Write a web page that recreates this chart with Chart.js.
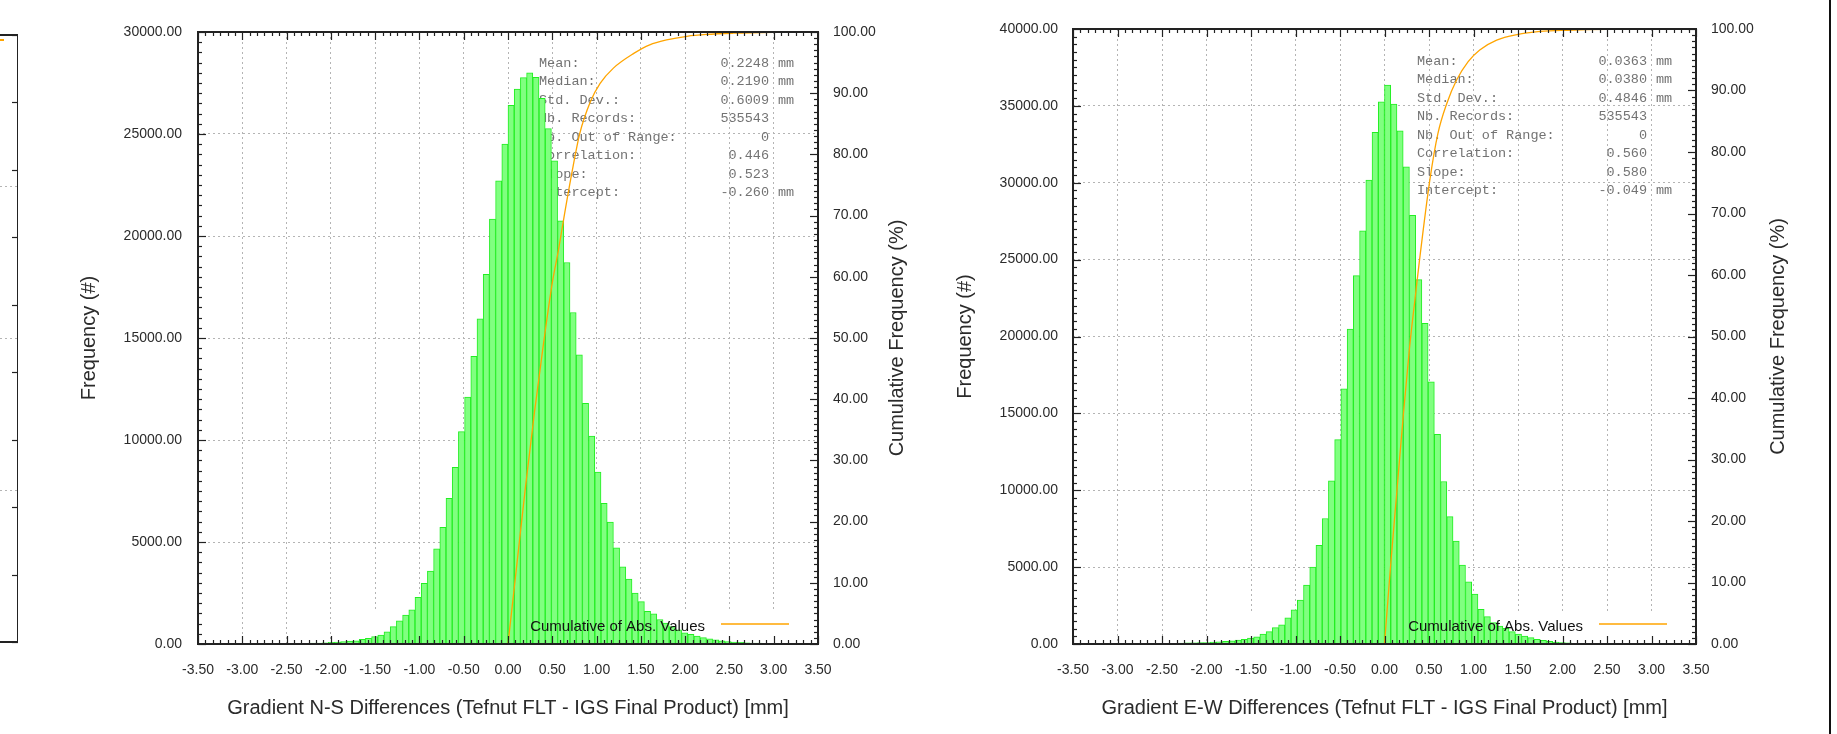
<!DOCTYPE html>
<html>
<head>
<meta charset="utf-8">
<script src="https://cdn.jsdelivr.net/npm/chart.js@4.4.0/dist/chart.umd.min.js"></script>
<style>
  html, body { margin: 0; padding: 0; background: #fff; }
  body { width: 1837px; height: 734px; position: relative; overflow: hidden; }
  .pane { position: absolute; top: 0; }
  canvas { display: block; }
  #edge { position: absolute; left: 1829px; top: 0; width: 2px; height: 734px; background: #111; }
</style>
</head>
<body>
<div class="pane" style="left:-400px"><canvas id="cutChart" width="418" height="734"></canvas></div>
<div class="pane" style="left:0"><canvas id="nsChart" width="920" height="734"></canvas></div>
<div class="pane" style="left:920px"><canvas id="ewChart" width="917" height="734"></canvas></div>
<div id="edge"></div>
<script>
// histogram bins: 100 bins of 0.07 mm from -3.5 to 3.5
const binStart = -3.5;
const binWidth = 0.07;

// Gradient N-S, counts per bin
const nsCounts = [
  0, 0, 0, 0, 0, 0, 0, 0, 0, 0,
  0, 0, 5, 8, 12, 18, 25, 32, 40, 50,
  62, 80, 100, 120, 140, 160, 230, 280, 360, 440,
  600, 850, 1130, 1420, 1670, 2290, 2970, 3580, 4660, 5720,
  7140, 8660, 10410, 12110, 14100, 15940, 18120, 20830, 22700, 24500,
  26400, 27200, 27760, 28000, 27780, 26750, 25260, 23680, 20740, 18700,
  16250, 14180, 11800, 10190, 8430, 6900, 5980, 4720, 3780, 3180,
  2500, 2080, 1600, 1480, 1200, 1030, 850, 690, 550, 470,
  390, 310, 250, 200, 150, 120, 100, 80, 60, 50,
  40, 30, 20, 20, 10, 8, 5, 3, 0, 0
];
// Gradient E-W, counts per bin
const ewCounts = [
  0, 0, 0, 0, 0, 0, 0, 0, 0, 0,
  10, 15, 20, 25, 30, 40, 50, 60, 70, 80,
  90, 100, 120, 140, 170, 210, 260, 310, 390, 470,
  650, 800, 1060, 1240, 1710, 2230, 2850, 3830, 5000, 6420,
  8160, 10620, 13290, 16600, 20490, 23960, 26880, 30180, 33280, 35270,
  36360, 35120, 33370, 31040, 27880, 23700, 20850, 17050, 13630, 10570,
  8280, 6700, 5140, 4050, 3250, 2260, 1780, 1390, 1170, 1020,
  800, 650, 520, 410, 300, 240, 170, 130, 90, 70,
  50, 40, 30, 20, 20, 10, 8, 5, 0, 0,
  0, 0, 0, 0, 0, 0, 0, 0, 0, 0
];

// cumulative of absolute values (%)
const nsCumX   = [0, 0.1, 0.2, 0.3, 0.4, 0.5, 0.57, 0.64, 0.72, 0.81, 0.93, 1.04, 1.19, 1.42, 1.6, 1.79, 2.02, 2.24, 2.54, 3.0, 3.5];
const nsCumPct = [0, 13, 26, 38, 49, 59, 64.4, 70.4, 76.9, 83.4, 88.6, 91.6, 94.1, 96.5, 97.9, 98.7, 99.3, 99.6, 99.8, 99.95, 100];
const ewCumX   = [0, 0.07, 0.14, 0.21, 0.28, 0.35, 0.39, 0.51, 0.6, 0.7, 0.81, 0.94, 1.07, 1.26, 1.49, 1.75, 2.05, 2.5, 3.5];
const ewCumPct = [0, 13, 25, 37, 48, 57, 62, 75.5, 83, 87.9, 91.7, 94.7, 96.6, 98.2, 99.1, 99.6, 99.8, 99.95, 100];

// statistics boxes
const nsStats = [
  ['Mean:', '0.2248', 'mm'], ['Median:', '0.2190', 'mm'], ['Std. Dev.:', '0.6009', 'mm'],
  ['Nb. Records:', '535543', ''], ['Nb. Out of Range:', '0', ''], ['Correlation:', '0.446', ''],
  ['Slope:', '0.523', ''], ['Intercept:', '-0.260', 'mm']
];
const ewStats = [
  ['Mean:', '0.0363', 'mm'], ['Median:', '0.0380', 'mm'], ['Std. Dev.:', '0.4846', 'mm'],
  ['Nb. Records:', '535543', ''], ['Nb. Out of Range:', '0', ''], ['Correlation:', '0.560', ''],
  ['Slope:', '0.580', ''], ['Intercept:', '-0.049', 'mm']
];

const xTitles = [
  'Gradient N-S Differences (Tefnut FLT - IGS Final Product) [mm]',
  'Gradient E-W Differences (Tefnut FLT - IGS Final Product) [mm]'
];
const yTitle = 'Frequency (#)';
const y2Title = 'Cumulative Frequency (%)';
const keyLabel = 'Cumulative of Abs. Values';

const SANS = '"Liberation Sans", Arial, Helvetica, sans-serif';
const MONO = '"Liberation Mono", "Courier New", monospace';
const TEXT = '#2b2b2b';
const GRID = '#b4b4b4';
const gridDash = [2, 3];

// gnuplot-like frame: border, inward ticks, key, stats, right-hand title
const gnuFrame = {
  id: 'gnuFrame',
  beforeDatasetsDraw(chart, args, o) {
    const { ctx, chartArea: a } = chart;
    const x = chart.scales.x;
    ctx.save();
    // the key box is opaque: it hides the grid, the bars go over it
    const kx = x.getPixelForValue(o.keyFrom);
    ctx.fillStyle = '#fff';
    ctx.fillRect(kx, a.bottom - 32, a.right - kx - 1, 31);
    // stats text sits under the bars
    ctx.font = '13.5px ' + MONO;
    ctx.fillStyle = '#737373';
    ctx.textBaseline = 'middle';
    o.stats.forEach((row, i) => {
      const y = a.top + o.statsTop + i * 18.5;
      ctx.textAlign = 'left';
      ctx.fillText(row[0], a.right - 279, y);
      ctx.textAlign = 'right';
      ctx.fillText(row[1], a.right - 49, y);
      if (row[2]) {
        ctx.textAlign = 'left';
        ctx.fillText(row[2], a.right - 40, y);
      }
    });
    ctx.restore();
  },
  afterDraw(chart, args, o) {
    const { ctx, chartArea: a, scales } = chart;
    ctx.save();
    ctx.strokeStyle = '#222';
    ctx.lineWidth = 1.2;
    const tick = (x1, y1, x2, y2) => { ctx.beginPath(); ctx.moveTo(x1, y1); ctx.lineTo(x2, y2); ctx.stroke(); };

    // x ticks, bottom and mirrored on top
    const xs = scales.x;
    const xMinor = o.xMinor;
    for (let i = 0; i <= 14 * xMinor; i++) {
      const px = Math.round(xs.getPixelForValue(-3.5 + i * 0.5 / xMinor)) + 0.5;
      const len = i % xMinor === 0 ? 8 : 4;
      tick(px, a.bottom, px, a.bottom - len);
      tick(px, a.top, px, a.top + len);
    }
    // left y ticks
    const ys = scales.y;
    for (let v = 0; v <= ys.max; v += 500) {
      const py = Math.round(ys.getPixelForValue(v)) + 0.5;
      tick(a.left, py, a.left + (v % 5000 === 0 ? 8 : 4), py);
    }
    // right y2 ticks
    const y2 = scales.y2;
    for (let v = 0; v <= 100; v += 1) {
      const py = Math.round(y2.getPixelForValue(v)) + 0.5;
      tick(a.right, py, a.right - (v % 10 === 0 ? 8 : 4), py);
    }
    // border
    ctx.lineWidth = 2;
    ctx.strokeRect(a.left, a.top, a.right - a.left, a.bottom - a.top);

    // key
    ctx.font = '15px ' + SANS;
    ctx.fillStyle = '#111';
    ctx.textAlign = 'right';
    ctx.textBaseline = 'middle';
    ctx.fillText(keyLabel, a.right - 113, a.bottom - 17);
    ctx.strokeStyle = '#ffa500';
    ctx.lineWidth = 1.3;
    tick(a.right - 97, a.bottom - 20, a.right - 29, a.bottom - 20);

    // right axis title, read bottom to top
    ctx.translate(o.y2TitleX, (a.top + a.bottom) / 2);
    ctx.rotate(-Math.PI / 2);
    ctx.font = '20px ' + SANS;
    ctx.fillStyle = TEXT;
    ctx.textAlign = 'center';
    ctx.fillText(y2Title, 0, 0);
    ctx.restore();
  }
};

function makeChart(id, counts, cumX, cumPct, yMax, opts) {
  const bars = counts.map((v, i) => ({ x: binStart + binWidth * (i + 0.5), y: v }));
  const cum = cumX.map((v, i) => ({ x: v, y: cumPct[i] }));
  const tickFont = { family: SANS, size: 14 };
  return new Chart(document.getElementById(id), {
    type: 'bar',
    data: {
      datasets: [
        {
          type: 'line', data: cum, yAxisID: 'y2', borderColor: '#ffa500', borderWidth: 1.3,
          pointRadius: 0, fill: false, cubicInterpolationMode: 'monotone'
        },
        {
          type: 'bar', data: bars, yAxisID: 'y', backgroundColor: '#80ff80', borderColor: '#22ee22',
          borderWidth: 1, barPercentage: 1, categoryPercentage: 1, grouped: false
        }
      ]
    },
    options: {
      responsive: false,
      animation: false,
      events: [],
      layout: { padding: { top: opts.top, left: 0, right: 0, bottom: 0 } },
      plugins: { legend: { display: false }, tooltip: { enabled: false }, gnuFrame: opts.frame },
      scales: {
        x: {
          type: 'linear', min: -3.5, max: 3.5, offset: false,
          afterFit: s => { s.height = 90; },
          ticks: { stepSize: 0.5, padding: 18, color: TEXT, font: tickFont, maxRotation: 0, autoSkip: false,
                   callback: v => Number(v).toFixed(2) },
          grid: { color: GRID, lineWidth: 1, drawTicks: false, offset: false },
          border: { display: false, dash: gridDash },
          title: { display: true, text: opts.xTitle, color: TEXT, font: { family: SANS, size: 20 },
                   padding: { top: 0, bottom: 14 } }
        },
        y: {
          position: 'left', min: 0, max: yMax,
          afterFit: s => { s.width = opts.yWidth; },
          ticks: { stepSize: 5000, padding: opts.yPad, color: TEXT, font: tickFont,
                   callback: v => Number(v).toFixed(2) },
          grid: { color: GRID, lineWidth: 1, drawTicks: false },
          border: { display: false, dash: gridDash },
          title: { display: true, text: yTitle, color: TEXT, font: { family: SANS, size: 20 },
                   padding: { top: opts.yTitlePad, bottom: 0 } }
        },
        y2: {
          position: 'right', min: 0, max: 100,
          afterFit: s => { s.width = opts.y2Width; },
          ticks: { stepSize: 10, padding: 15, color: TEXT, font: tickFont,
                   callback: v => Number(v).toFixed(2) },
          grid: { drawOnChartArea: false, drawTicks: false },
          border: { display: false }
        }
      }
    },
    plugins: [gnuFrame]
  });
}

makeChart('nsChart', nsCounts, nsCumX, nsCumPct, 30000, {
  top: 32, yWidth: 198, y2Width: 102, yPad: 16, yTitlePad: 77, xTitle: xTitles[0],
  frame: { stats: nsStats, statsTop: 31, keyFrom: -1.75, xMinor: 6, y2TitleX: 897 }
});
makeChart('ewChart', ewCounts, ewCumX, ewCumPct, 40000, {
  top: 29, yWidth: 153, y2Width: 141, yPad: 15, yTitlePad: 33, xTitle: xTitles[1],
  frame: { stats: ewStats, statsTop: 32, keyFrom: -1.75, xMinor: 6, y2TitleX: 858 }
});

// right edge of the neighbouring panel, cut off by the page border
const cutFrame = {
  id: 'cutFrame',
  afterDraw(chart) {
    const { ctx, chartArea: a, scales } = chart;
    ctx.save();
    ctx.strokeStyle = '#222';
    ctx.lineWidth = 1.2;
    scales.y2.ticks.forEach(t => {
      const py = Math.round(scales.y2.getPixelForValue(t.value)) + 0.5;
      ctx.beginPath(); ctx.moveTo(a.right, py); ctx.lineTo(a.right - 6, py); ctx.stroke();
    });
    ctx.lineWidth = 2;
    ctx.strokeRect(a.left, a.top, a.right - a.left, a.bottom - a.top);
    ctx.strokeStyle = '#ffa500';
    ctx.lineWidth = 2;
    ctx.beginPath(); ctx.moveTo(a.right - 18, a.top + 5); ctx.lineTo(a.right - 14, a.top + 5); ctx.stroke();
    ctx.restore();
  }
};
new Chart(document.getElementById('cutChart'), {
  type: 'line',
  data: { datasets: [] },
  options: {
    responsive: false,
    animation: false,
    events: [],
    layout: { padding: { top: 35, left: 0, right: 0, bottom: 92 } },
    plugins: { legend: { display: false }, tooltip: { enabled: false } },
    scales: {
      x: { type: 'linear', display: false, min: 0, max: 1 },
      y: {
        min: 0, max: 22200, afterFit: s => { s.width = 0; },
        ticks: { display: false, stepSize: 5000 },
        grid: { color: GRID, drawTicks: false },
        border: { display: false, dash: gridDash }
      },
      y2: {
        position: 'right', min: 0, max: 90, afterFit: s => { s.width = 0; },
        ticks: { display: false, stepSize: 10 },
        grid: { drawOnChartArea: false, drawTicks: false },
        border: { display: false }
      }
    }
  },
  plugins: [cutFrame]
});
</script>
</body>
</html>
